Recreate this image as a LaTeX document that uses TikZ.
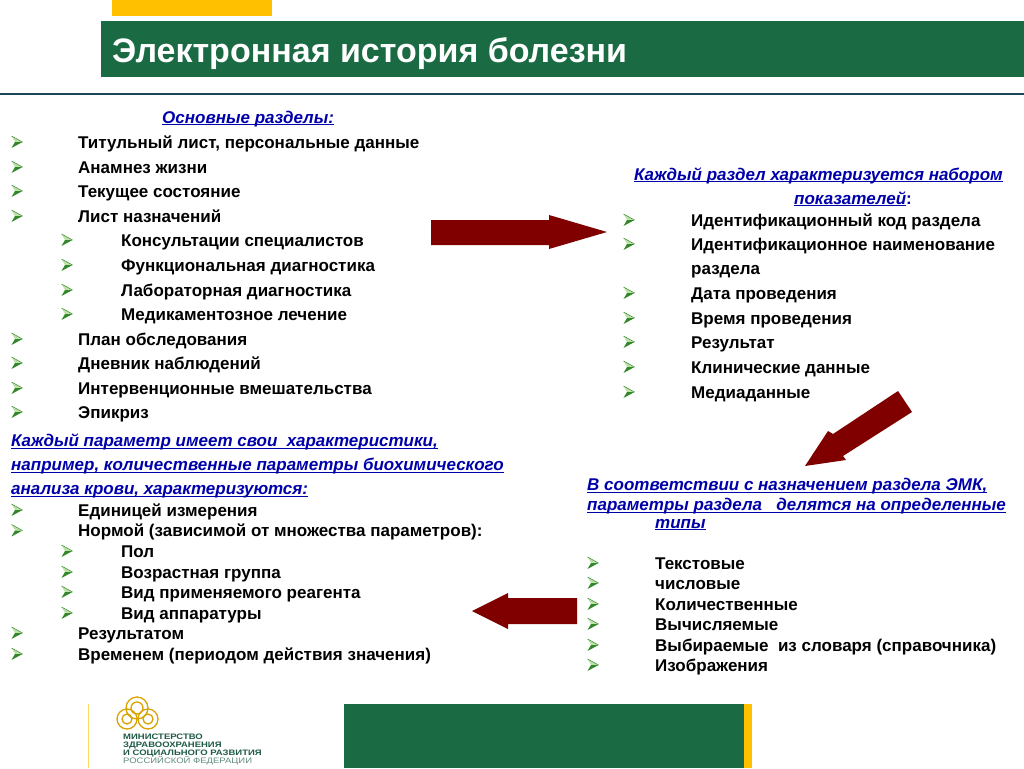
\documentclass[tikz,border=0pt]{standalone}
\usepackage{fontspec}
\setmainfont{Liberation Sans}
\definecolor{hgreen}{RGB}{26,107,67}
\definecolor{hyellow}{RGB}{255,192,0}
\definecolor{hred}{RGB}{128,0,0}
\definecolor{hblue}{RGB}{0,0,170}
\definecolor{bdark}{RGB}{50,135,40}
\definecolor{blight}{RGB}{190,225,170}
\definecolor{hline}{RGB}{30,70,90}
\definecolor{logot}{RGB}{30,90,70}
\tikzset{
  x=1pt,y=-1pt,
  item/.style={anchor=base west,inner sep=0pt,font=\fontsize{17}{20}\selectfont\bfseries,text=black},
  head/.style={anchor=base west,inner sep=0pt,font=\fontsize{17}{20}\selectfont\bfseries\itshape,text=hblue},
  bigarrow/.style={fill=hred,draw=none},
  ring/.style={draw=hyellow!85!black,line width=1.3pt,fill=none},
  logotxt/.style={anchor=base west,inner sep=0pt,text=logot,xscale=1.2,font=\fontsize{7.9}{9}\selectfont\bfseries},
}
\newcommand{\ulhead}[1]{\setbox0=\hbox{#1}\leavevmode\rlap{\rule[-2.4pt]{\wd0}{1.3pt}}\box0 }
\newcommand{\bullmark}[2]{% x, y of centre
  \fill[blight] (#1-5.5,#2-6) -- (#1+5.5,#2) -- (#1-2,#2) -- cycle;
  \fill[bdark] (#1-5.5,#2+6) -- (#1+5.5,#2) -- (#1-2,#2) -- cycle;
  \draw[bdark,line width=0.5pt] (#1-5.5,#2-6) -- (#1+5.5,#2);
}
\newcommand{\ent}[4]{% bulletx, textx, y, text
  \bullmark{#1}{#3-5}
  \node[item] at (#2,#3+1.2) {#4};
}
\begin{document}
\begin{tikzpicture}
\useasboundingbox (0,0) rectangle (1024,768);
\fill[white] (0,0) rectangle (1024,768);
% header
\fill[hyellow] (112,0) rectangle (272,16);
\fill[hgreen] (101,21) rectangle (1024,77);
\node[anchor=base west,inner sep=0pt,text=white,font=\fontsize{34}{38}\selectfont\bfseries] (title) at (112,62.8) {Электронная история болезни};
\fill[hline] (0,93) rectangle (1024,95);
% left list
\node[head] (h1) at (162,123) {\ulhead{Основные разделы:}};
\ent{17}{78}{147}{Титульный лист, персональные данные}
\ent{17}{78}{172}{Анамнез жизни}
\ent{17}{78}{196}{Текущее состояние}
\ent{17}{78}{221}{Лист назначений}
\ent{67}{121}{245}{Консультации специалистов}
\ent{67}{121}{270}{Функциональная диагностика}
\ent{67}{121}{295}{Лабораторная диагностика}
\ent{67}{121}{319}{Медикаментозное лечение}
\ent{17}{78}{344}{План обследования}
\ent{17}{78}{368}{Дневник наблюдений}
\ent{17}{78}{393}{Интервенционные вмешательства}
\ent{17}{78}{417}{Эпикриз}
% left lower
\node[head] (h2a) at (11,446.5) {\ulhead{Каждый параметр имеет свои\ \ характеристики,}};
\node[head] (h2b) at (11,470.7) {\ulhead{например, количественные параметры биохимического}};
\node[head] (h2c) at (11,494.7) {\ulhead{анализа крови, характеризуются:}};
\ent{17}{78}{515}{Единицей измерения}
\ent{17}{78}{535.5}{Нормой (зависимой от множества параметров):}
\ent{67}{121}{556}{Пол}
\ent{67}{121}{577}{Возрастная группа}
\ent{67}{121}{597}{Вид применяемого реагента}
\ent{67}{121}{618}{Вид аппаратуры}
\ent{17}{78}{638}{Результатом}
\ent{17}{78}{659}{Временем (периодом действия значения)}
% right upper
\node[head] (h3a) at (634,180) {\ulhead{Каждый раздел характеризуется набором}};
\node[head] (h3b) at (794,204) {\ulhead{показателей}\textup{:}};
\ent{629}{691}{225}{Идентификационный код раздела}
\ent{629}{691}{249}{Идентификационное наименование}
\node[item] (r2b) at (691,274.6) {раздела};
\ent{629}{691}{298}{Дата проведения}
\ent{629}{691}{323}{Время проведения}
\ent{629}{691}{347}{Результат}
\ent{629}{691}{372}{Клинические данные}
\ent{629}{691}{397}{Медиаданные}
% right lower
\node[head] (h4a) at (587,490.7) {\ulhead{В соответствии с назначением раздела ЭМК,}};
\node[head] (h4b) at (587,510.7) {\ulhead{параметры раздела\ \ \ делятся на определенные}};
\node[head] (h4c) at (655,528) {\ulhead{типы}};
\ent{593}{655}{568}{Текстовые}
\ent{593}{655}{588}{числовые}
\ent{593}{655}{609}{Количественные}
\ent{593}{655}{629}{Вычисляемые}
\ent{593}{655}{650}{Выбираемые\ \ из словаря (справочника)}
\ent{593}{655}{670}{Изображения}
% block arrows
\fill[bigarrow] (431,220) -- (549,220) -- (549,215) -- (607,232) -- (549,249) -- (549,245) -- (431,245) -- cycle;
\fill[bigarrow] (898,391) -- (912,412) -- (843,456) -- (846,460) -- (805,466) -- (828,431) -- (833,434) -- cycle;
\fill[bigarrow] (577,598) -- (508,598) -- (508,593) -- (472,611) -- (508,629) -- (508,624) -- (577,624) -- cycle;
% footer
\draw[hyellow!60,line width=1pt] (88,704) -- (88,768);
\fill[hgreen] (344,704) rectangle (744,768);
\fill[hyellow] (744,704) rectangle (752,768);
% logo
\draw[ring] (137,708) circle (6);
\draw[ring] (137,708) circle (11);
\draw[ring] (127,719) circle (10);
\draw[ring] (148,719) circle (10);
\draw[ring] (127,719) circle (5);
\draw[ring] (148,719) circle (5);
\node[logotxt] (l1) at (123,739) {МИНИСТЕРСТВО};
\node[logotxt] (l2) at (123,747) {ЗДРАВООХРАНЕНИЯ};
\node[logotxt] (l3) at (123,755.5) {И СОЦИАЛЬНОГО РАЗВИТИЯ};
\node[logotxt,font=\fontsize{7.9}{9}\selectfont,text=logot!70] (l4) at (123,763) {РОССИЙСКОЙ ФЕДЕРАЦИИ};
\end{tikzpicture}
\end{document}
